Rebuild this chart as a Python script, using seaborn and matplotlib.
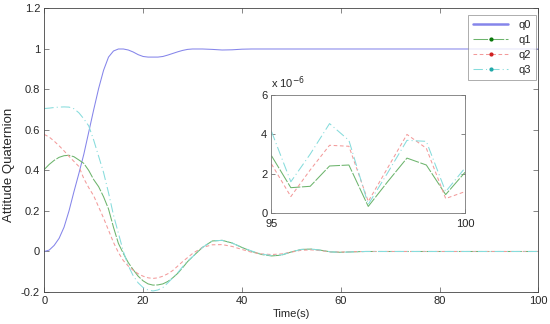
import numpy as np
import pandas as pd
import matplotlib
matplotlib.use("Agg")
import matplotlib.pyplot as plt
from matplotlib.lines import Line2D
from matplotlib.ticker import FormatStrFormatter
import seaborn as sns

# main run, time in seconds
t = [0, 1, 2, 3, 4, 5, 6, 7, 8, 9, 10, 11, 12, 13, 14, 15, 16, 17, 18, 19, 20,
     21, 22, 23, 24, 25, 26, 27, 28, 29, 30, 32, 34, 36, 38, 40, 42, 44, 46, 48,
     50, 52, 54, 56, 58, 60, 62, 65, 70, 80, 90, 100]
q0 = [0.0, 0.007, 0.03, 0.065, 0.12, 0.2, 0.295, 0.385, 0.48, 0.59, 0.70, 0.805,
      0.895, 0.96, 0.99, 1.0, 1.0, 0.995, 0.985, 0.972, 0.963, 0.96, 0.96, 0.96,
      0.963, 0.97, 0.978, 0.986, 0.993, 0.998, 1.0, 1.0, 0.998, 0.995, 0.996,
      0.999, 1.0, 1.0, 1.0, 1.0, 1.0, 1.0, 1.0, 1.0, 1.0, 1.0, 1.0, 1.0, 1.0,
      1.0, 1.0, 1.0]
q1 = [0.405, 0.43, 0.45, 0.465, 0.473, 0.475, 0.468, 0.452, 0.435, 0.40, 0.355,
      0.32, 0.27, 0.21, 0.12, 0.04, -0.01, -0.055, -0.09, -0.122, -0.145, -0.16,
      -0.166, -0.165, -0.16, -0.148, -0.13, -0.108, -0.08, -0.05, -0.026, 0.02,
      0.052, 0.055, 0.042, 0.02, 0.0, -0.015, -0.022, -0.018, -0.002, 0.01,
      0.012, 0.006, -0.002, -0.004, -0.002, 0.0, 0.0, 0.0, 0.0, 0.0]
q2 = [0.578, 0.565, 0.545, 0.522, 0.497, 0.47, 0.445, 0.42, 0.36, 0.315, 0.275,
      0.22, 0.165, 0.105, 0.045, -0.005, -0.045, -0.072, -0.093, -0.11, -0.122,
      -0.13, -0.133, -0.13, -0.122, -0.11, -0.094, -0.072, -0.05, -0.03, -0.01,
      0.02, 0.033, 0.034, 0.025, 0.01, -0.004, -0.012, -0.015, -0.012, -0.003,
      0.006, 0.008, 0.004, -0.002, -0.003, -0.001, 0.0, 0.0, 0.0, 0.0, 0.0]
q3 = [0.706, 0.708, 0.711, 0.713, 0.714, 0.713, 0.705, 0.685, 0.655, 0.62, 0.55,
      0.47, 0.39, 0.29, 0.18, 0.09, 0.0, -0.07, -0.12, -0.155, -0.178, -0.19,
      -0.195, -0.19, -0.178, -0.155, -0.13, -0.105, -0.075, -0.048, -0.026, 0.02,
      0.052, 0.055, 0.042, 0.02, 0.002, -0.013, -0.02, -0.017, -0.002, 0.01,
      0.012, 0.006, -0.002, -0.004, -0.002, 0.0, 0.0, 0.0, 0.0, 0.0]

# zoomed tail 95..100 s, values in units of 1e-6
t_zoom = [95, 95.5, 96, 96.5, 97, 97.5, 98, 98.5, 99, 99.5, 100]
q1_zoom = [2.92, 1.3, 1.37, 2.4, 2.45, 0.35, 1.6, 2.8, 2.45, 0.95, 2.08]
q2_zoom = [2.5, 0.85, 2.2, 3.45, 3.4, 0.6, 2.3, 4.0, 3.3, 0.75, 1.1]
q3_zoom = [4.15, 1.6, 3.0, 4.55, 3.7, 0.45, 2.05, 3.7, 3.65, 1.1, 2.3]

names = ["q0", "q1", "q2", "q3"]
colors = ["#8585ea", "#6cb46c", "#f39a9a", "#86dcdc"]
mk_colors = ["#8585ea", "#0a780a", "#d02020", "#20a8a8"]
styles = ["-", (0, (14, 1.5)), (0, (3.5, 2.5)), (0, (9, 3, 1, 3))]

sns.set_style("ticks")
plt.rcParams["font.family"] = ["Liberation Sans", "DejaVu Sans"]
plt.rcParams["axes.unicode_minus"] = False

df = pd.DataFrame({"t": t, "q0": q0, "q1": q1, "q2": q2, "q3": q3})
dz = pd.DataFrame({"t": t_zoom, "q1": q1_zoom, "q2": q2_zoom, "q3": q3_zoom})

fs = 8
fig = plt.figure(figsize=(5.5, 3.24), dpi=100)
ax = fig.add_axes([0.0805, 0.0988, 0.8985, 0.875])

for i, n in enumerate(names):
    sns.lineplot(data=df, x="t", y=n, ax=ax, color=colors[i], linestyle=styles[i],
                 linewidth=0.75)

ax.set_xlim(0, 100)
ax.set_ylim(-0.2, 1.2)
ax.set_xticks(range(0, 101, 20))
ax.set_yticks(np.arange(-0.2, 1.21, 0.2))
ax.yaxis.set_major_formatter(FormatStrFormatter("%g"))
ax.set_xlabel("Time(s)", fontsize=fs, labelpad=2)
ax.set_ylabel("Attitude Quaternion", fontsize=9.5)
ax.yaxis.set_label_coords(-0.059, 0.447)
ax.tick_params(direction="in", top=True, right=True, labelsize=fs, length=3.5,
               width=0.5, color="#555555", pad=3)
for s in ax.spines.values():
    s.set_linewidth(0.6)
    s.set_color("#444444")

handles = [Line2D([], [], color=colors[0], linewidth=1.8)]
for i in range(1, 4):
    handles.append(Line2D([], [], color=colors[i], linestyle=styles[i], linewidth=0.75,
                          marker=".", markersize=4, markerfacecolor=mk_colors[i],
                          markeredgecolor=mk_colors[i]))
leg = ax.legend(handles, names, loc="upper right", bbox_to_anchor=(0.995, 0.976),
                fontsize=fs, frameon=True, fancybox=False, handlelength=3.2,
                handletextpad=0.9, labelspacing=0.45, borderpad=0.45,
                borderaxespad=0.0)
leg.get_frame().set_edgecolor("#888888")
leg.get_frame().set_linewidth(0.6)

# inset
axi = fig.add_axes([0.4936, 0.3416, 0.3519, 0.3652])
for i, n in enumerate(names[1:], start=1):
    sns.lineplot(data=dz, x="t", y=n, ax=axi, color=colors[i], linestyle=styles[i],
                 linewidth=0.75)
axi.set_xlim(95, 100)
axi.set_ylim(0, 6)
axi.set_xticks([95, 100])
axi.set_yticks([0, 2, 4, 6])
axi.set_xlabel("")
axi.set_ylabel("")
axi.tick_params(axis="x", direction="in", top=True, labelsize=fs, length=3,
                width=0.5, color="#555555", pad=4)
axi.tick_params(axis="y", direction="in", right=True, labelsize=fs, length=3,
                width=0.5, color="#555555", pad=3)
for s in axi.spines.values():
    s.set_linewidth(0.6)
    s.set_color("#777777")
axi.text(0.0, 1.03, "x 10$^{-6}$", transform=axi.transAxes, fontsize=fs,
         ha="left", va="bottom")

fig.savefig("out.png", dpi=100)
